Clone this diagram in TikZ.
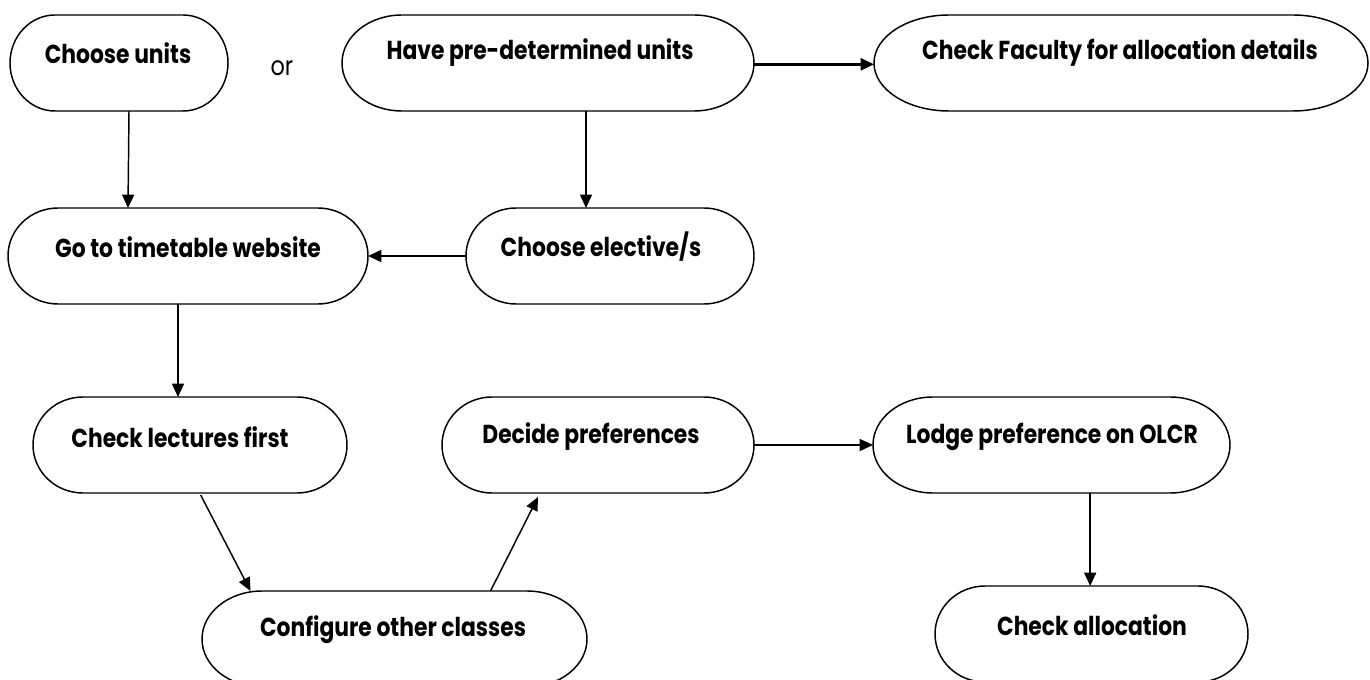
\documentclass[tikz,border=0pt]{standalone}
\usepackage{fontspec}
\setmainfont{Poppins}[FakeStretch=0.84]
\usetikzlibrary{arrows.meta}
\tikzset{
  boxframe/.style={draw=none, inner sep=0pt, outer sep=0pt},
  pillline/.style={line width=1.1pt, draw=black},
  boxtext/.style={font=\fontsize{19.5}{23}\selectfont\bfseries, inner sep=0pt, anchor=center},
  conn/.style={line width=1.1pt, -{Triangle[length=10pt,width=9pt]}},
  thickconn/.style={line width=2pt, -{Triangle[length=10pt,width=9pt]}}
}
% name, x1, y1, x2, y2, rx
\newcommand\pillbox[6]{%
  \node[boxframe, minimum width={(#4-#2)*0.75pt}, minimum height={(#5-#3)*0.75pt}] (#1) at ({(#2+#4)/2},{(#3+#5)/2}) {};
  \draw[pillline] ({#2+#6},#3) -- ({#4-#6},#3)
     arc[start angle=-90, end angle=90, x radius=#6, y radius={(#5-#3)/2}]
     -- ({#2+#6},#5)
     arc[start angle=90, end angle=270, x radius=#6, y radius={(#5-#3)/2}] -- cycle;
}
\begin{document}
\begin{tikzpicture}[x=0.75pt, y=-0.75pt]
\useasboundingbox (0,0) rectangle (1370,680);
\clip (0,0) rectangle (1370,680);
\pillbox{cu}{10}{15}{228}{111}{45}
\pillbox{hp}{342}{15}{754}{111}{60}
\pillbox{cf}{874}{15}{1368}{111}{75}
\pillbox{gt}{8}{208}{368}{304}{50}
\pillbox{ce}{466}{208}{754}{304}{50}
\pillbox{cl}{33}{397}{347}{493}{50}
\pillbox{dp}{442}{397}{754}{493}{50}
\pillbox{lp}{873}{397}{1230}{493}{60}
\pillbox{co}{202}{591}{587}{687}{60}
\pillbox{ca}{935}{586}{1248}{682}{50}

\node[boxtext] (cut) at (118,53) {Choose units};
\node[boxtext] (hpt) at (540,53) {Have pre-determined units};
\node[boxtext] (cft) at (1120,53) {Check Faculty for allocation details};
\node[boxtext] (gtt) at (188,247) {Go to timetable website};
\node[boxtext] (cet) at (601,247) {Choose elective/s};
\node[boxtext] (clt) at (180,437) {Check lectures first};
\node[boxtext] (dpt) at (591,437) {Decide preferences};
\node[boxtext] (lpt) at (1052,437) {Lodge preference on OLCR};
\node[boxtext] (cot) at (393,630) {Configure other classes};
\node[boxtext] (cat) at (1092,625) {Check allocation};
\node[font=\fontsize{20}{24}\selectfont, inner sep=0pt] (or) at (282,68) {or};

\draw[conn] ([xshift=7.5pt]cu.south) -- ([xshift=-45pt]gt.north);
\draw[conn] ([xshift=28.5pt]hp.south) -- ([xshift=-18pt]ce.north);
\draw[thickconn] ([yshift=-1pt]hp.east) -- ([yshift=-1pt]cf.west);
\draw[conn] ([yshift=0pt]ce.west) -- ([yshift=0pt]gt.west -| gt.east);
\draw[conn] ([xshift=-7.5pt]gt.south) -- ([xshift=-9pt]cl.north);
\draw[conn] ([xshift=8pt,yshift=-1.5pt]cl.south) -- ([xshift=-108pt]co.north);
\draw[conn] ([xshift=72pt]co.north) -- ([xshift=-45pt,yshift=-3pt]dp.south);
\draw[conn] ([yshift=0pt]dp.east) -- ([yshift=0pt]lp.west);
\draw[conn] ([xshift=29pt]lp.south) -- ([xshift=-1pt]ca.north);
\end{tikzpicture}
\end{document}
